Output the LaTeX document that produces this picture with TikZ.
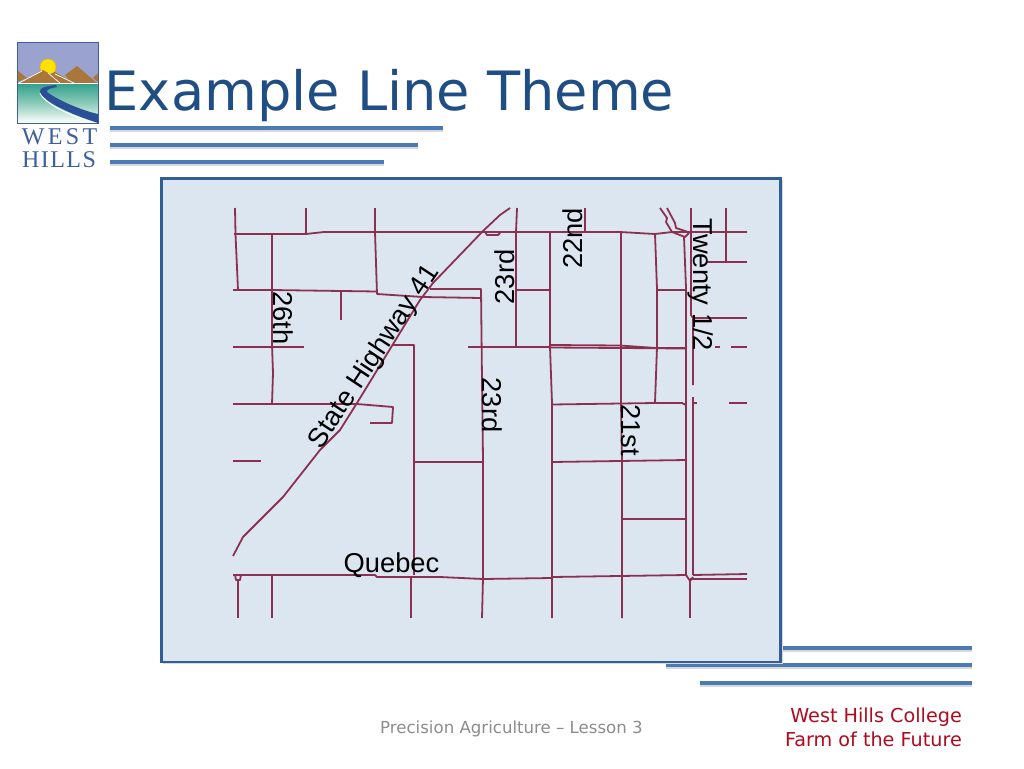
\documentclass[tikz,border=0pt]{standalone}
\usepackage{fontspec}
\setmainfont{DejaVu Sans}
\newfontfamily\maplabel{Liberation Sans}
\newfontfamily\logofonta[LetterSpace=14]{Liberation Serif}
\newfontfamily\logofontb[LetterSpace=6]{Liberation Serif}
\definecolor{barblue}{HTML}{4A7BB5}
\definecolor{framefill}{HTML}{DCE6F1}
\definecolor{frameline}{HTML}{2F5F94}
\definecolor{roadcol}{HTML}{8B3050}
\definecolor{titleblue}{HTML}{1F4E85}
\definecolor{logoblue}{HTML}{3E5F9E}
\definecolor{footred}{HTML}{B00A1E}
\definecolor{mount}{HTML}{A9773A}
\definecolor{sky}{HTML}{9AA3CF}
\definecolor{watertop}{HTML}{2F9E8C}
\definecolor{watermid}{HTML}{8CCBB8}
\definecolor{logoroad}{HTML}{2A4F96}
\tikzset{
  road/.style={draw=roadcol,line width=1.8pt,line join=round},
  barline/.style={draw=barblue,line width=4.4pt},
  barshadow/.style={draw=black!30,line width=4pt,opacity=.5},
  lab/.style={font=\maplabel\fontsize{27.3}{27}\selectfont,text=black,inner sep=0pt},
}
\begin{document}
\begin{tikzpicture}[x=1pt,y=-1pt]
\useasboundingbox (0,0) rectangle (1024,768);
\fill[white] (0,0) rectangle (1024,768);
% bars
\foreach \xa/\xb/\yy in {110/443/128,110/418/145,110/384/162,760/972/648,666/972/665,700/972/683}{
  \draw[barshadow] (\xa,\yy+2) -- (\xb,\yy+2);
  \draw[barline] (\xa,\yy) -- (\xb,\yy);
}
% frame
\fill[black!15] (163,180) rectangle (782.5,664);
\draw[draw=frameline,line width=2.2pt,fill=framefill] (161.5,178.5) rectangle (780.5,662);
% logo
\fill[sky] (17,42) rectangle (98,83);
\fill[bottom color=white,top color=watertop,middle color=watermid] (17,83) rectangle (98,123);
\fill[mount] (17,70) -- (27,78) -- (17,82) -- cycle;
\fill[mount] (98,73) -- (93,78) -- (98,82) -- cycle;
\fill[yellow!85!orange,draw=orange!70!yellow,line width=.5pt] (48,67) circle (8);
\fill[mount] (19,83) -- (43,70) -- (50,74) -- (55,72) -- (74,83) -- cycle;
\fill[mount] (65,75) -- (77,66) -- (97,83) -- (71,83) -- cycle;
\draw[white,line width=1pt] (17,83.5) -- (98,83.5);
\draw[white,line width=.7pt] (19,83) -- (42,71) (48,73) -- (60,83) (55,74) -- (74,83);
\draw[white,line width=1pt] (40,93) .. controls (45,104) and (70,116) .. (98,124);
\fill[logoroad] (56,85) .. controls (45,86) and (39,88) .. (40,92) .. controls (44,102) and (70,114) .. (98,123) -- (98,114) .. controls (80,110) and (58,100) .. (47,92) .. controls (46,89) and (52,88) .. (57,87) -- cycle;
\draw[logoblue,line width=.7pt] (17,42) rectangle (98,123);
\node (west) [font=\logofonta\fontsize{24}{24}\selectfont,text=logoblue,inner sep=0pt] at (59.5,137) {WEST};
\node (hills) [font=\logofontb\fontsize{24}{24}\selectfont,text=logoblue,inner sep=0pt] at (59,160) {HILLS};
% title
\node (title) [anchor=base west,inner sep=0pt,font=\fontsize{54.2}{55}\selectfont,text=titleblue] at (104.5,110) {Example Line Theme};
% roads
\draw[road] (235,208) -- (235.5,234) -- (238,290);
\draw[road] (306,208) -- (306,234);
\draw[road] (234,234) -- (306,234) -- (324,232) -- (620,232) -- (655,234) -- (672,232) -- (747,232);
\draw[road] (375,208) -- (375,232) -- (377,294) -- (423,297) -- (481,298);
\draw[road] (272,234) -- (272,345) -- (273,373) -- (272,404);
\draw[road] (233,290) -- (272,290) -- (377,291.5);
\draw[road] (341,291) -- (341,320);
\draw[road] (430,289) -- (481,289) -- (482,380) -- (483,460) -- (483,578) -- (482,618);
\draw[road] (233,347) -- (304,347);
\draw[road] (468,347) -- (551,347);
\draw[road] (551,345) -- (620,345.5) -- (656,348) -- (686,348);
\draw[road] (551,347.5) -- (620,348) -- (686,348.5);
\draw[road] (393,345) -- (414,345) -- (414,575);
\draw[road] (414,462) -- (483,462);
\draw[road] (233,404) -- (357,404) -- (393,407) -- (392,423) -- (370,423);
\draw[road] (233,461) -- (261,461);
\draw[road] (510,208) -- (500,215) -- (483,231) -- (433,283) -- (420,300) -- (357,403) -- (340,430) -- (320,450) -- (283,497) -- (243,537) -- (233,556);
\draw[road] (485,232) -- (487,235) -- (498,235) -- (500,233);
\draw[road] (517,208) -- (516,232) -- (516,347);
\draw[road] (516,290) -- (550,290);
\draw[road] (550,232) -- (550,347) -- (552,403) -- (552,618);
\draw[road] (585,208) -- (585,232);
\draw[road] (621,232) -- (621,404) -- (622,462) -- (622,618);
\draw[road] (655,234) -- (657,289) -- (657,347) -- (655,403);
\draw[road] (657,290) -- (686,290);
\draw[road] (552,404.5) -- (655,403) -- (682,403) -- (686,405);
\draw[road] (660,208) -- (667,218) -- (666,222) -- (672,232) -- (685,237) -- (689,233);
\draw[road] (667,208) -- (675,223) -- (676,228) -- (688,232);
\draw[road] (684,237) -- (686,288) -- (686,575) -- (690,581) -- (693,577);
\draw[road] (691,208) -- (691,315) -- (693,318) -- (693,385);
\draw[road] (693,397) -- (693,575);
\draw[road] (726,208) -- (726,262);
\draw[road] (707,262) -- (747,262);
\draw[road] (693,318) -- (747,318);
\draw[road] (715,347) -- (720,347);
\draw[road] (731,347) -- (747,347);
\draw[road] (693,403) -- (697,403);
\draw[road] (729,403) -- (747,403);
\draw[road] (552,462) -- (686,460);
\draw[road] (622,519) -- (686,519);
\draw[road] (233,575) -- (375,575) -- (377,577) -- (440,577) -- (483,579) -- (552,578);
\draw[road] (552,577) -- (686,575);
\draw[road] (693,575) -- (747,574);
\draw[road] (690,579) -- (747,579);
\draw[road] (690,581) -- (690,618);
\draw[road] (235,575) -- (236,580) -- (240,580) -- (241,575);
\draw[road] (238,580) -- (238,618);
\draw[road] (272,575) -- (272,618);
\draw[road] (411,577) -- (411,618);
% map labels
\node (l26) [lab,rotate=-90] at (283,318) {26th};
\node (lhw) [lab,rotate=56.5] at (374.5,357) {State Highway 41};
\node (l23a) [lab,rotate=90] at (504.5,277) {23rd};
\node (l22) [lab,rotate=90] at (573,238.5) {22nd};
\node (l23b) [lab,rotate=-90] at (492,405) {23rd};
\node (l21) [lab,rotate=-90] at (631,430) {21st};
\node (ltw) [lab,rotate=-90] at (701,285) {Twenty 1/2};
\node (lq) [lab] at (391.5,565.5) {Quebec};
% footer
\node (foot) [anchor=base west,inner sep=0pt,text=black!45,font=\fontsize{16.6}{17}\selectfont] at (380,733) {Precision Agriculture – Lesson 3};
\node (f1) [anchor=base east,inner sep=0pt,text=footred,font=\fontsize{19.2}{20}\selectfont] at (962,722) {West Hills College};
\node (f2) [anchor=base east,inner sep=0pt,text=footred,font=\fontsize{19.2}{20}\selectfont] at (962,746) {Farm of the Future};
\end{tikzpicture}
\end{document}
